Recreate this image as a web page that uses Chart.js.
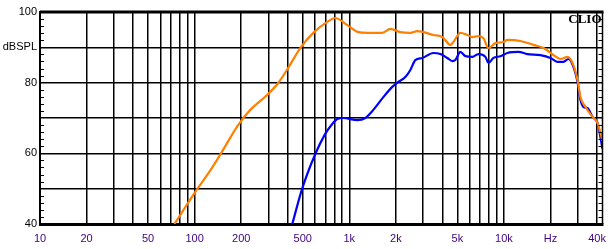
<!DOCTYPE html>
<html>
<head>
<meta charset="utf-8">
<script src="https://cdn.jsdelivr.net/npm/chart.js@4/dist/chart.umd.min.js"></script>
<style>
  html, body { margin: 0; padding: 0; background: #fff; }
  #wrap { width: 614px; height: 249px; position: relative; }
</style>
</head>
<body>
<div id="wrap"><canvas id="myChart"></canvas></div>
<script>
// grid lines on the frequency axis and the labels shown under some of them
var gridFreqs = [10, 20, 30, 40, 50, 60, 70, 80, 90,
  100, 200, 300, 400, 500, 600, 700, 800, 900,
  1000, 2000, 3000, 4000, 5000, 6000, 7000, 8000, 9000,
  10000, 20000, 30000, 40000];
var freqLabels = {10: '10', 20: '20', 50: '50', 100: '100', 200: '200', 500: '500',
  1000: '1k', 2000: '2k', 5000: '5k', 10000: '10k', 20000: 'Hz', 40000: '40k'};
var dbLabels = {100: '100', 90: 'dBSPL', 80: '80', 60: '60', 40: '40'};

// orange curve
var orangeFreq = [74, 100, 126, 150, 191, 229, 294, 347, 403, 482, 585, 721, 811, 971,
  1143, 1309, 1636, 1842, 2138, 2483, 2754, 3497, 4000, 4507, 4711, 5228, 5803,
  6253, 6840, 7370, 7940, 8810, 9930, 10540, 12790, 15520, 18030, 20910, 23210,
  25760, 27740, 29910, 31270, 33710, 37420, 40290, 43400];
var orangeDb = [40, 48.8, 55.1, 60.4, 68.0, 72.3, 76.5, 79.9, 84.2, 89.8, 94.1, 97.2, 98.3, 96.3,
  94.3, 94.1, 94.1, 95.2, 94.3, 94.1, 94.6, 93.5, 92.9, 90.7, 91.5, 94.1, 93.5,
  92.9, 93.2, 92.6, 89.8, 91.2, 91.5, 92.1, 91.8, 90.7, 89.8, 87.8, 86.7,
  87.3, 85.6, 80.8, 75.9, 73.1, 70.3, 68.6, 63.5];

// blue curve
var blueFreq = [428, 496, 603, 699, 776, 836, 915, 1127, 1270, 1430, 1660, 1897, 2075,
  2303, 2483, 2674, 2967, 3497, 3881, 4306, 4642, 4850, 5228, 5634, 6253, 6840,
  7590, 7940, 8550, 9490, 10540, 12420, 14190, 17220, 19990, 22180, 24270, 26140,
  28180, 29910, 31270, 32720, 34690, 37420, 40290, 43400];
var blueDb = [40, 50.0, 59.8, 65.5, 68.3, 69.7, 70.0, 69.4, 70.0, 72.3, 75.9, 78.8, 80.2,
  81.6, 83.6, 86.4, 87.0, 88.4, 88.1, 87.0, 86.1, 86.4, 88.7, 87.5, 87.3, 88.1,
  87.3, 85.6, 87.0, 87.5, 88.4, 88.7, 88.1, 87.8, 87.0, 85.9, 85.9, 86.7,
  84.4, 80.2, 75.1, 73.1, 72.8, 70.3, 68.6, 61.2];

function toPoints(xs, ys) {
  return xs.map(function (f, i) { return {x: f, y: ys[i]}; });
}

// frame, minor dB ticks and the CLIO mark
var framePlugin = {
  id: 'frame',
  afterDraw: function (chart) {
    var c = chart.ctx, a = chart.chartArea, y = chart.scales.y;
    c.save();
    c.strokeStyle = '#000';
    c.lineWidth = 3;
    c.beginPath();
    c.moveTo(a.left, a.top);
    c.lineTo(a.right + 1, a.top);
    c.stroke();
    c.lineWidth = 1.5;
    c.beginPath();
    c.moveTo(a.right, a.top);
    c.lineTo(a.right, a.bottom);
    c.stroke();
    c.lineWidth = 1;
    for (var v = 42; v < 100; v += 2) {
      if (v % 10 === 0) continue;
      var py = Math.round(y.getPixelForValue(v)) + 0.5;
      c.beginPath();
      c.moveTo(a.left, py); c.lineTo(a.left + 4, py);
      c.moveTo(a.right - 4, py); c.lineTo(a.right, py);
      c.stroke();
    }
    c.fillStyle = '#000';
    c.font = 'bold 13px "Liberation Serif", "DejaVu Serif", serif';
    c.textAlign = 'right';
    c.textBaseline = 'alphabetic';
    c.fillText('CLIO', a.right - 1, a.top + 11);
    c.restore();
  }
};

var ctx = document.getElementById('myChart').getContext('2d');

var chart = new Chart(ctx, {
  type: 'line',
  data: {
    datasets: [{
      label: 'orange',
      data: toPoints(orangeFreq, orangeDb),
      borderColor: 'rgb(255, 128, 0)',
      borderWidth: 2.2,
      pointRadius: 0,
      cubicInterpolationMode: 'monotone'
    }, {
      label: 'blue',
      data: toPoints(blueFreq, blueDb),
      borderColor: 'rgb(0, 0, 255)',
      borderWidth: 2.2,
      pointRadius: 0,
      cubicInterpolationMode: 'monotone'
    }]
  },
  options: {
    responsive: true,
    maintainAspectRatio: false,
    animation: false,
    layout: {padding: {top: 12, right: 11, left: 0, bottom: 0}},
    plugins: {legend: {display: false}, tooltip: {enabled: false}},
    scales: {
      x: {
        type: 'logarithmic',
        min: 10,
        max: 43400,
        afterBuildTicks: function (scale) {
          scale.ticks = gridFreqs.map(function (f) { return {value: f}; });
        },
        afterFit: function (scale) { scale.height = 25; },
        ticks: {
          autoSkip: false,
          maxRotation: 0,
          padding: 8,
          color: '#400080',
          font: {family: '"Liberation Sans", Arial, sans-serif', size: 11},
          callback: function (value) { return freqLabels[value] || ''; }
        },
        grid: {color: '#000', lineWidth: 1.5, drawTicks: false},
        border: {color: '#000', width: 3}
      },
      y: {
        min: 40,
        max: 100,
        afterFit: function (scale) { scale.width = 40; },
        ticks: {
          stepSize: 10,
          padding: 3,
          color: '#000',
          font: {family: '"Liberation Sans", Arial, sans-serif', size: 11},
          callback: function (value) { return dbLabels[value] || ''; }
        },
        grid: {color: '#000', lineWidth: 1.5, drawTicks: false},
        border: {color: '#000', width: 2}
      }
    }
  },
  plugins: [framePlugin]
});
</script>
</body>
</html>
